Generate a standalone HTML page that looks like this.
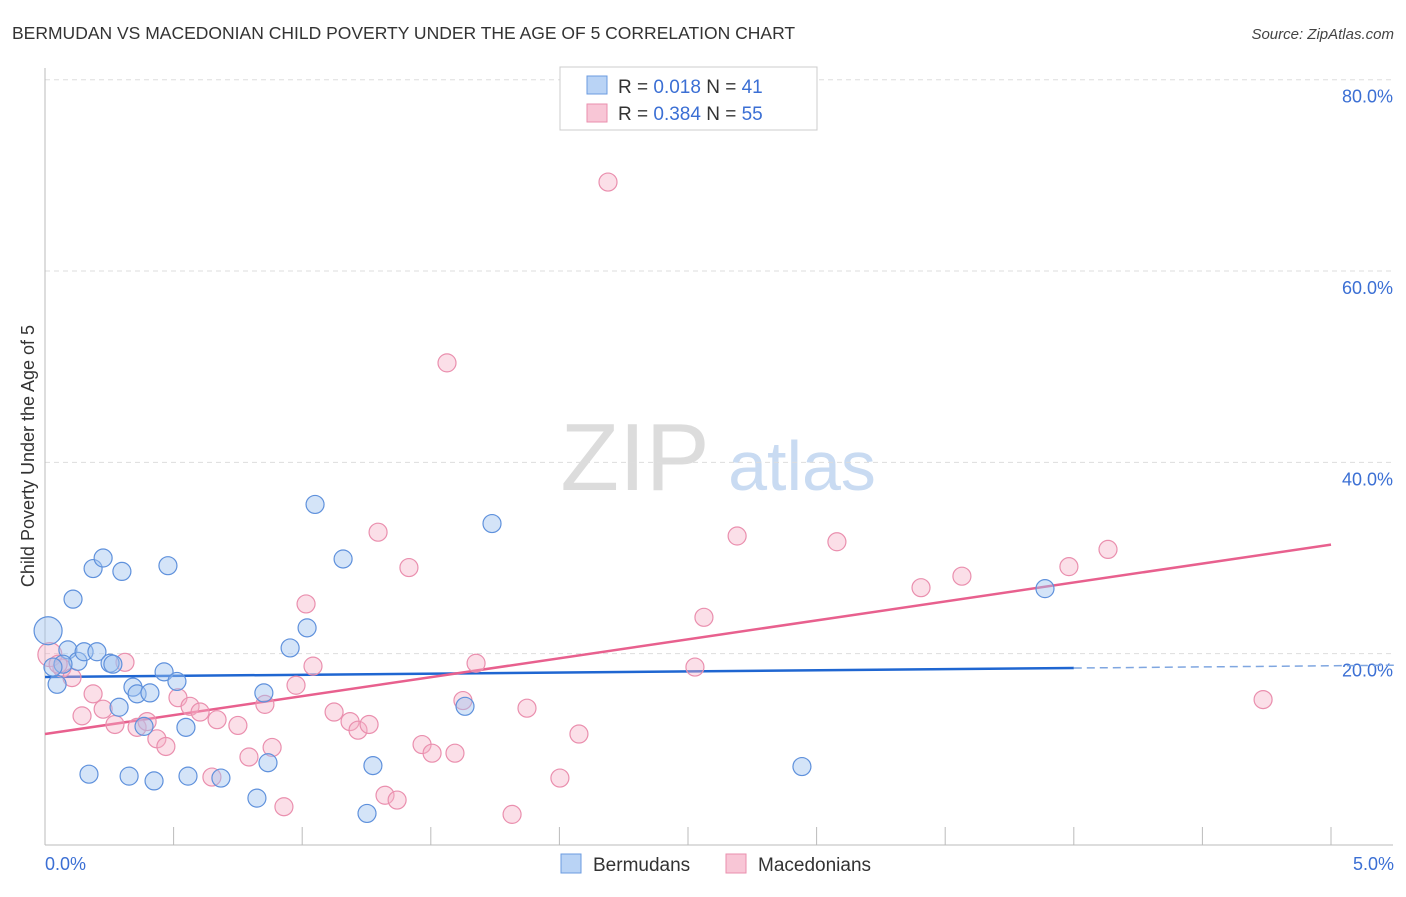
<!DOCTYPE html>
<html><head><meta charset="utf-8"><style>
body{margin:0;background:#fff;font-family:"Liberation Sans",sans-serif}
svg text{font-family:"Liberation Sans",sans-serif}
</style></head><body>
<svg id="chart" width="1406" height="892" viewBox="0 0 1406 892" xmlns="http://www.w3.org/2000/svg">
<text x="12" y="39" font-size="17.5" fill="#333">BERMUDAN VS MACEDONIAN CHILD POVERTY UNDER THE AGE OF 5 CORRELATION CHART</text>
<text x="1394" y="39" font-size="15" fill="#444" text-anchor="end" font-style="italic">Source: ZipAtlas.com</text>
<g>
<text x="635" y="490" font-size="96" fill="#dcdcdc" text-anchor="middle" font-family="Liberation Serif">ZIP</text>
<text x="802" y="490" font-size="70" fill="#c9dbf2" text-anchor="middle">atlas</text>
</g>
<g id="grid"></g>
<g id="axes"></g>
<g id="trends"></g>
<g id="points"></g>
<text transform="translate(34,456) rotate(-90)" font-size="18" fill="#333" text-anchor="middle">Child Poverty Under the Age of 5</text>
<text x="45" y="870" font-size="18" fill="#3b6fd4">0.0%</text>
<text x="1394" y="870" font-size="18" fill="#3b6fd4" text-anchor="end">5.0%</text>
<g>
<rect x="560" y="67" width="257" height="63" fill="#fff" stroke="#ccc"/>
<rect x="587" y="76" width="20" height="18" fill="#b9d3f5" stroke="#6b9be0"/>
<text x="618" y="93" font-size="19" fill="#333">R = <tspan fill="#3b6fd4">0.018</tspan>   N = <tspan fill="#3b6fd4">41</tspan></text>
<rect x="587" y="104" width="20" height="18" fill="#f8c6d6" stroke="#ea8fae"/>
<text x="618" y="120" font-size="19" fill="#333">R = <tspan fill="#3b6fd4">0.384</tspan>   N = <tspan fill="#3b6fd4">55</tspan></text>
</g>
<g>
<rect x="561" y="854" width="20" height="19" fill="#b9d3f5" stroke="#6b9be0"/>
<text x="593" y="871" font-size="19" fill="#333">Bermudans</text>
<rect x="726" y="854" width="20" height="19" fill="#f8c6d6" stroke="#ea8fae"/>
<text x="758" y="871" font-size="19" fill="#333">Macedonians</text>
</g>
</svg>
<script>
const yTicks=[20,40,60,80];
const yTickLabels=["20.0%","40.0%","60.0%","80.0%"];
const xTicks=[0,0.5,1,1.5,2,2.5,3,3.5,4,4.5,5];
const blueX=[0.012,0.047,0.089,0.128,0.070,0.152,0.202,0.253,0.264,0.109,0.187,0.226,0.299,0.478,0.171,0.327,0.424,0.556,0.684,0.288,0.342,0.358,0.408,0.463,0.513,0.548,0.385,0.851,0.867,0.824,0.953,1.019,1.050,1.159,1.275,1.252,1.633,1.738,3.888,2.943,0.031];
const blueY=[22.4,16.8,20.4,19.2,18.9,20.2,20.2,19.0,18.9,25.7,28.9,30.0,28.6,29.2,7.4,7.2,6.7,7.2,7.0,14.4,16.5,15.8,15.9,18.1,17.1,12.3,12.4,15.9,8.6,4.9,20.6,22.7,35.6,29.9,8.3,3.3,14.5,33.6,26.8,8.2,18.6];
const pinkX=[0.019,0.066,0.105,0.051,0.311,0.187,0.226,0.144,0.272,0.358,0.397,0.435,0.470,0.517,0.564,0.603,0.669,0.750,0.793,0.883,0.929,0.976,1.042,1.015,1.124,1.186,1.217,1.260,1.295,1.322,1.369,1.415,1.466,1.505,1.594,1.625,1.676,1.816,1.874,2.002,2.076,2.189,1.563,2.527,2.562,2.691,3.079,3.406,3.565,3.981,4.133,4.736,0.649,0.855];
const pinkY=[19.9,18.5,17.5,18.9,19.1,15.8,14.2,13.5,12.6,12.3,12.9,11.1,10.3,15.4,14.5,13.9,13.1,12.5,9.2,10.2,4.0,16.7,18.7,25.2,13.9,12.9,12.0,12.6,32.7,5.2,4.7,29.0,10.5,9.6,9.6,15.1,19.0,3.2,14.3,7.0,11.6,69.3,50.4,18.6,23.8,32.3,31.7,26.9,28.1,29.1,30.9,15.2,7.1,14.7];
const blueTrend=[17.56,0.235];   // intercept, slope
const pinkTrend=[11.6,3.96];
const NS="http://www.w3.org/2000/svg";
const sx=v=>45+v*257.2, sy=v=>845-v*9.566;
function mk(tag,attrs,parent){const e=document.createElementNS(NS,tag);for(const k in attrs)e.setAttribute(k,attrs[k]);parent.appendChild(e);return e;}
const grid=document.getElementById('grid'),axes=document.getElementById('axes'),tr=document.getElementById('trends'),pts=document.getElementById('points');
yTicks.forEach((t,i)=>{
 const l=mk('line',{x1:45,x2:1393,y1:sy(t),y2:sy(t),stroke:'#ddd','stroke-dasharray':'5,4'},grid);
 
 
 const tx=mk('text',{x:1393,y:sy(t)+23,'font-size':18,fill:'#3b6fd4','text-anchor':'end'},grid);
 tx.textContent=yTickLabels[i];
 
 
});
const ya=mk('line',{x1:45,x2:45,y1:68,y2:845,stroke:'#bbb'},axes);


const xa=mk('line',{x1:45,x2:1393,y1:845,y2:845,stroke:'#bbb'},axes);


xTicks.forEach(t=>{
 const l=mk('line',{x1:sx(t),x2:sx(t),y1:827,y2:845,stroke:'#bbb'},axes);
 
 
});
function dots(X,Y,fill,stroke,name){
 X.forEach((x,i)=>{
  const c=mk('circle',{cx:sx(x),cy:sy(Y[i]),r:(i===0?(name==='bermudan-point'?14:12):9),fill:fill,stroke:stroke,'stroke-width':1.2},pts);
  
  
 });
}
dots(pinkX,pinkY,'rgba(246,175,198,0.4)','#ea8fae','macedonian-point');
dots(blueX,blueY,'rgba(160,196,240,0.45)','#5f91dc','bermudan-point');
const b1=mk('line',{x1:sx(0),y1:sy(blueTrend[0]),x2:sx(4),y2:sy(blueTrend[0]+blueTrend[1]*4),stroke:'#1f66d1','stroke-width':2.5},tr);


const b2=mk('line',{x1:sx(4),y1:sy(blueTrend[0]+blueTrend[1]*4),x2:sx(5.25),y2:sy(blueTrend[0]+blueTrend[1]*5.25),stroke:'#7fa6e0','stroke-width':1.5,'stroke-dasharray':'8,5'},tr);


const p1=mk('line',{x1:sx(0),y1:sy(pinkTrend[0]),x2:sx(5),y2:sy(pinkTrend[0]+pinkTrend[1]*5),stroke:'#e8608e','stroke-width':2.5},tr);


</script>
</body></html>
